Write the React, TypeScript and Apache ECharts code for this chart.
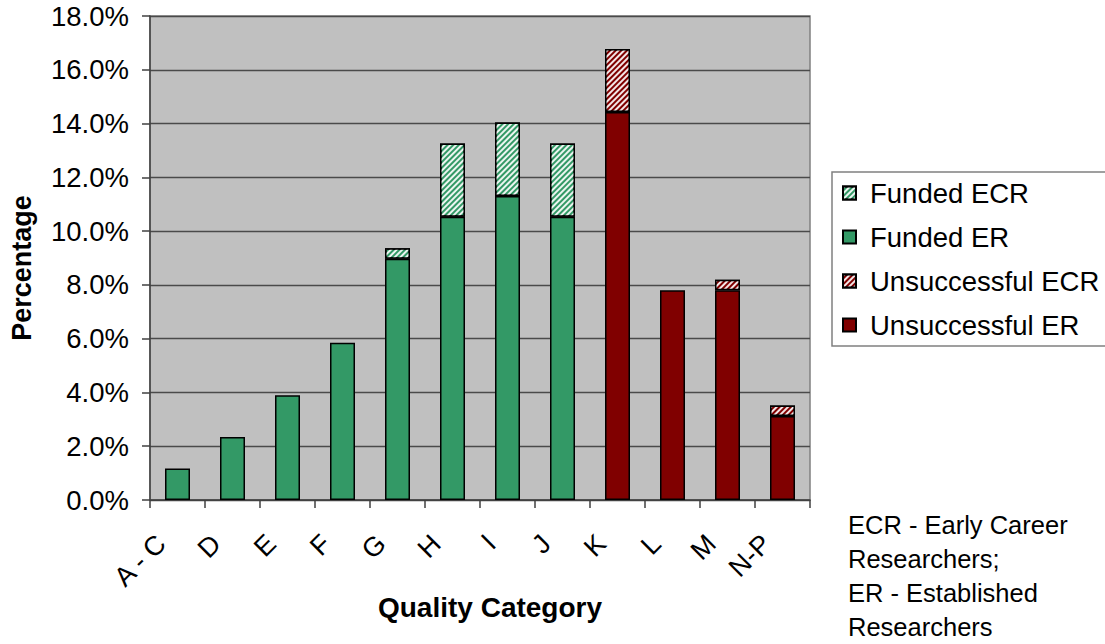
import React, { useEffect, useRef } from "react";
import * as echarts from "echarts";

const categories = ["A - C", "D", "E", "F", "G", "H", "I", "J", "K", "L", "M", "N-P"];
const fundedER = [1.17, 2.34, 3.9, 5.85, 8.97, 10.53, 11.31, 10.53, null, null, null, null];
const fundedECR = [null, null, null, null, 0.39, 2.73, 2.73, 2.73, null, null, null, null];
const unsuccessfulER = [null, null, null, null, null, null, null, null, 14.43, 7.8, 7.8, 3.12];
const unsuccessfulECR = [null, null, null, null, null, null, null, null, 2.34, null, 0.39, 0.39];
const legendOrder = ["Funded ECR", "Funded ER", "Unsuccessful ECR", "Unsuccessful ER"];
const noteLines = ["ECR - Early Career", "Researchers;", "ER - Established", "Researchers"];

const FONT = "'Liberation Sans', Arial, sans-serif";
const GREEN = "#339966";
const RED = "#800000";

const stripe = {
  symbol: "rect",
  symbolSize: 1,
  dashArrayX: [1, 0],
  dashArrayY: [2, 2],
  rotation: -Math.PI / 4,
  color: "rgba(255,255,255,0.9)",
};

export default function App() {
  const ref = useRef<HTMLDivElement>(null);
  useEffect(() => {
    document.body.style.margin = "0";
    const chart = echarts.init(ref.current!, undefined, { renderer: "svg" });
    const border = { borderColor: "#000", borderWidth: 1.5 };
    chart.setOption({
      animation: false,
      backgroundColor: "#fff",
      textStyle: { fontFamily: FONT },
      grid: {
        left: 150,
        top: 16,
        right: 295,
        bottom: 144,
        show: true,
        backgroundColor: "#C0C0C0",
        borderColor: "#808080",
        borderWidth: 1.5,
      },
      legend: {
        data: legendOrder,
        orient: "vertical",
        left: 832,
        top: 172,
        backgroundColor: "#fff",
        borderColor: "#808080",
        borderWidth: 1.5,
        borderRadius: 0,
        padding: [6, 18, 6, 10],
        itemGap: 14,
        itemWidth: 13,
        itemHeight: 13,
        icon: "rect",
        selectedMode: false,
        textStyle: { fontSize: 27.5, lineHeight: 30, color: "#000", fontFamily: FONT, padding: [0, 0, 0, 9] },
      },
      xAxis: {
        type: "category",
        data: categories,
        axisLine: { lineStyle: { color: "#404040", width: 1.5 } },
        axisTick: { show: true, length: 8, lineStyle: { color: "#404040", width: 1.5 } },
        axisLabel: {
          rotate: 45,
          margin: 23,
          fontSize: 27,
          color: "#000",
          fontFamily: FONT,
          padding: [0, 23, 0, 0],
          interval: 0,
        },
      },
      yAxis: {
        type: "value",
        min: 0,
        max: 18,
        interval: 2,
        axisLine: { show: true, lineStyle: { color: "#404040", width: 1.5 } },
        axisTick: { show: true, length: 8, lineStyle: { color: "#404040", width: 1.5 } },
        axisLabel: {
          margin: 21,
          fontSize: 27.5,
          color: "#000",
          fontFamily: FONT,
          formatter: (v: number) => v.toFixed(1) + "%",
        },
        splitLine: { show: true, lineStyle: { color: "#4a4a4a", width: 1.3 } },
      },
      series: [
        {
          name: "Funded ER",
          type: "bar",
          stack: "total",
          barWidth: 25,
          data: fundedER,
          itemStyle: { color: GREEN, ...border },
        },
        {
          name: "Funded ECR",
          type: "bar",
          stack: "total",
          barWidth: 25,
          data: fundedECR,
          itemStyle: { color: GREEN, decal: stripe, ...border },
        },
        {
          name: "Unsuccessful ER",
          type: "bar",
          stack: "total",
          barWidth: 25,
          data: unsuccessfulER,
          itemStyle: { color: RED, ...border },
        },
        {
          name: "Unsuccessful ECR",
          type: "bar",
          stack: "total",
          barWidth: 25,
          data: unsuccessfulECR,
          itemStyle: { color: RED, decal: stripe, ...border },
        },
      ],
      graphic: [
        {
          type: "text",
          x: 22,
          y: 268,
          rotation: Math.PI / 2,
          style: {
            text: "Percentage",
            fontSize: 27,
            fontWeight: "bold",
            fontFamily: FONT,
            fill: "#000",
            align: "center",
            verticalAlign: "middle",
          },
        },
        {
          type: "text",
          x: 490,
          y: 607,
          style: {
            text: "Quality Category",
            fontSize: 28,
            fontWeight: "bold",
            fontFamily: FONT,
            fill: "#000",
            align: "center",
            verticalAlign: "middle",
          },
        },
        {
          type: "text",
          x: 848,
          y: 508,
          style: {
            text: noteLines.join("\n"),
            fontSize: 25.5,
            lineHeight: 34,
            fontFamily: FONT,
            fill: "#000",
            align: "left",
            verticalAlign: "top",
          },
        },
      ],
    });
    return () => chart.dispose();
  }, []);
  return <div ref={ref} style={{ width: 1105, height: 644 }} />;
}
